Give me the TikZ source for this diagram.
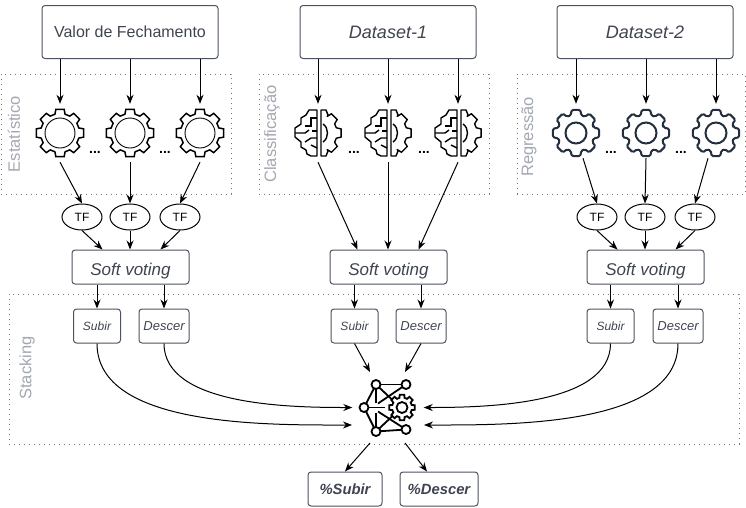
\documentclass[tikz,border=0pt]{standalone}
\usepackage{fontspec}
\usepackage{xcolor}
\setmainfont{Liberation Sans}
\usetikzlibrary{arrows.meta,shapes.geometric}
\definecolor{boxline}{HTML}{4D5360}
\definecolor{boxtext}{HTML}{3F4450}
\definecolor{grouptext}{HTML}{A3A7B0}
\definecolor{cogdark}{HTML}{232F3E}
\newcommand{\gearpath}[4]{(-#4:#1) \foreach \a in {0,45,...,315}{ -- ({\a-#4}:#1) -- ({\a-#3}:#2) -- ({\a+#3}:#2) -- ({\a+#4}:#1)} -- cycle}
\tikzset{
  ringcog/.pic={
    \draw[line width=1.5pt,line join=miter] \gearpath{19.5}{24}{10}{15};
    \draw[line width=0.9pt] (0,0) circle[radius=15pt];
  },
  plaincog/.pic={
    \draw[cogdark,line width=2pt,rounded corners=1.5pt] \gearpath{18.5}{23.5}{11}{16};
    \draw[cogdark,line width=2pt] (0,0) circle[radius=10.5pt];
  },
  braincog/.pic={
    \draw[line width=1.4pt,line join=round] (-1,-23) -- (-9,-23) -- (-12,-18) -- (-17,-15) -- (-17,-9) -- (-23,-5) -- (-23,4) -- (-17,9) -- (-17,14) -- (-12,17) -- (-11,21) -- (-7,23) -- (-1,23) -- cycle;
    \draw[line width=1.4pt] (-1,-15) -- (-7,-15) -- (-7,-7) -- (-13,-7);
    \draw[line width=1.4pt] (-23,0) -- (-13,0) -- (-9,-3);
    \draw[line width=1.4pt] (-1,-2) -- (-6,-2);
    \draw[line width=1.4pt] (-1,5) -- (-7,5) -- (-13,9);
    \draw[line width=1.4pt] (-1,15) -- (-7,12);
    \draw[line width=1.4pt,line join=round] (3,-23) -- (8,-23) -- (10,-18) \foreach \a in {-45,0,45}{ -- ({\a-16}:19) -- ({\a-10}:23.5) -- ({\a+10}:23.5) -- ({\a+16}:19)} -- (10,18) -- (8,23) -- (3,23) -- cycle;
    \draw[line width=1.4pt] (5,-9) .. controls (11,-5) and (11,5) .. (5,9);
  },
  netcog/.pic={
    \draw[line width=1.8pt] (-12,-23) -- (18,-23);
    \draw[line width=1.8pt] (-12,24) -- (18,22);
    \draw[line width=1.8pt] (-24,0) -- (-12,-23);
    \draw[line width=1.8pt] (-24,0) -- (-12,24);
    \draw[line width=1.8pt] (-24,0) -- (-3,0);
    \draw[line width=1.8pt] (-12,-23) -- (-12,-5);
    \draw[line width=1.8pt] (-12,24) -- (-12,5);
    \draw[line width=1.8pt] (18,-23) -- (-10,-4);
    \draw[line width=1.8pt] (18,22) -- (-10,4);
    \draw[line width=1.8pt] (-12,-23) -- (4,-8);
    \draw[line width=1.8pt] (-12,24) -- (4,9);
    \begin{scope}[shift={(14,0)}]
      \draw[line width=1.8pt,fill=white] \gearpath{10}{13}{10}{15};
      \draw[line width=1.8pt] (0,0) circle[radius=5.5pt];
    \end{scope}
    \draw[line width=1.8pt,fill=white] (-12,-23) circle[radius=4.5pt];
    \draw[line width=1.8pt,fill=white] (18,-23) circle[radius=4.5pt];
    \draw[line width=1.8pt,fill=white] (-24,0) circle[radius=4.5pt];
    \draw[line width=1.8pt,fill=white] (-12,24) circle[radius=4.5pt];
    \draw[line width=1.8pt,fill=white] (18,22) circle[radius=4.5pt];
  }
}
\begin{document}
\begin{tikzpicture}[x=1pt,y=-1pt,
  source/.style={draw=boxline,line width=1pt,rounded corners=3pt,minimum width=176pt,minimum height=53pt,inner sep=0pt,text=boxtext,font=\fontsize{16}{18}\selectfont},
  voter/.style={draw=boxline,line width=1pt,rounded corners=3pt,minimum width=117pt,minimum height=34pt,inner sep=0pt,text height=16pt,text depth=0pt,text=boxtext,font=\fontsize{17}{19}\selectfont\itshape},
  upbox/.style={draw=boxline,line width=1pt,rounded corners=3pt,minimum width=47pt,minimum height=34pt,inner sep=0pt,text=boxtext,font=\fontsize{12}{14}\selectfont\itshape},
  downbox/.style={upbox,minimum width=50pt,font=\fontsize{13}{15}\selectfont\itshape},
  result/.style={draw=boxline,line width=1pt,rounded corners=3pt,minimum height=34pt,inner sep=0pt,text=boxtext,font=\fontsize{14.8}{16}\selectfont\bfseries\itshape},
  tfnode/.style={draw,line width=1pt,ellipse,minimum width=40pt,minimum height=26pt,inner sep=0pt,font=\fontsize{12}{14}\selectfont},
  iconbox/.style={minimum width=48pt,minimum height=58pt,inner sep=0pt},
  group/.style={draw=black!55,line width=0.9pt,dash pattern=on 1pt off 4pt,inner sep=0pt},
  grouplabel/.style={rotate=90,text=grouptext,font=\fontsize{16.5}{18}\selectfont},
  gap/.style={inner sep=0pt,font=\fontsize{14}{16}\selectfont\bfseries},
  link/.style={line width=1pt,-{Stealth[length=9pt,width=7pt]}}]
 \useasboundingbox (0,0) rectangle (746,507);
 % groups
 \node[group,minimum width=230pt,minimum height=120pt] (GE) at (116,134) {};
 \node[group,minimum width=230pt,minimum height=120pt] (GC) at (374,134) {};
 \node[group,minimum width=228pt,minimum height=120pt] (GR) at (631,134) {};
 \node[group,minimum width=730pt,minimum height=150pt] (GS) at (374,369) {};
 \node[grouplabel] (LE) at (14,134) {Estatístico};
 \node[grouplabel] (LC) at (272,134) {Classificação};
 \node[grouplabel] (LR) at (529,137) {Regressão};
 \node[grouplabel] (LS) at (27,368) {Stacking};
 % sources
 \node[source] (V) at (130,32) {Valor de Fechamento};
 \node[source] (D1) at (388,32) {\fontsize{18}{20}\selectfont\itshape Dataset-1};
 \node[source] (D2) at (645,32) {\fontsize{18}{20}\selectfont\itshape Dataset-2};
 % icons
 \node[iconbox] (E1) at (60,133) {};
 \node[iconbox] (E2) at (130,133) {};
 \node[iconbox] (E3) at (200,133) {};
 \node[iconbox] (C1) at (318,133) {};
 \node[iconbox] (C2) at (388,133) {};
 \node[iconbox] (C3) at (458,133) {};
 \node[iconbox] (R1) at (576,133) {};
 \node[iconbox] (R2) at (646,133) {};
 \node[iconbox] (R3) at (716,133) {};
 \pic at (E1) {ringcog};
 \pic at (E2) {ringcog};
 \pic at (E3) {ringcog};
 \pic at (C1) {braincog};
 \pic at (C2) {braincog};
 \pic at (C3) {braincog};
 \pic at (R1) {plaincog};
 \pic at (R2) {plaincog};
 \pic at (R3) {plaincog};
 \node[gap] (G1) at (95,152) {...};
 \node[gap] (G2) at (165,152) {...};
 \node[gap] (G3) at (354,152) {...};
 \node[gap] (G4) at (424,152) {...};
 \node[gap] (G5) at (611,152) {...};
 \node[gap] (G6) at (681,152) {...};
 % tf
 \node[tfnode] (T1) at (82,217) {TF};
 \node[tfnode] (T2) at (130,217) {TF};
 \node[tfnode] (T3) at (180,217) {TF};
 \node[tfnode] (T4) at (597,217) {TF};
 \node[tfnode] (T5) at (645,217) {TF};
 \node[tfnode] (T6) at (695,217) {TF};
 % voting
 \node[voter] (SE) at (130.5,267) {Soft voting};
 \node[voter] (SC) at (388.5,267) {Soft voting};
 \node[voter] (SR) at (645.5,267) {Soft voting};
 \node[upbox] (UE) at (97,326) {Subir};
 \node[downbox] (DE) at (164,326) {Descer};
 \node[upbox] (UC) at (354.5,326) {Subir};
 \node[downbox] (DC) at (421,326) {Descer};
 \node[upbox] (UR) at (610.5,326) {Subir};
 \node[downbox] (DR) at (678,326) {Descer};
 % stacking
 \node[inner sep=0pt,minimum width=71pt,minimum height=71pt] (N) at (388,407.5) {};
 \pic at (N) {netcog};
 \coordinate (NA) at (370,372);
 \coordinate (NB) at (405,372);
 \coordinate (NC) at (352,425);
 \coordinate (ND) at (424,425);
 \coordinate (NE) at (370,443);
 \coordinate (NF) at (405,443);
 \node[result,minimum width=74pt] (PU) at (345,489) {\%Subir};
 \node[result,minimum width=78pt] (PD) at (439,489) {\%Descer};
 % connectors
 \draw[link] (V.south -| E1) -- (E1.north);
 \draw[link] (V.south -| E2) -- (E2.north);
 \draw[link] (V.south -| E3) -- (E3.north);
 \draw[link] (D1.south -| C1) -- (C1.north);
 \draw[link] (D1.south -| C2) -- (C2.north);
 \draw[link] (D1.south -| C3) -- (C3.north);
 \draw[link] (D2.south -| R1) -- (R1.north);
 \draw[link] (D2.south -| R2) -- (R2.north);
 \draw[link] (D2.south -| R3) -- (R3.north);
 \draw[link] (E1.south) -- (T1.north);
 \draw[link] (E2.south) -- (T2.north);
 \draw[link] (E3.south) -- (T3.north);
 \draw[link] (C1.south) -- ([xshift=-31pt]SC.north);
 \draw[link] (C2.south) -- (C2 |- SC.north);
 \draw[link] (C3.south) -- ([xshift=30pt]SC.north);
 \draw[link] ([xshift=7pt,yshift=4pt]R1.south) -- (T4.north);
 \draw[link] ([yshift=4pt]R2.south) -- (T5.north);
 \draw[link] ([xshift=-8pt,yshift=4pt]R3.south) -- (T6.north);
 \draw[link] (T1.south) -- ([xshift=-28pt]SE.north);
 \draw[link] (T2.south) -- (T2 |- SE.north);
 \draw[link] (T3.south) -- ([xshift=30pt]SE.north);
 \draw[link] (T4.south) -- ([xshift=-28pt]SR.north);
 \draw[link] (T5.south) -- (T5 |- SR.north);
 \draw[link] (T6.south) -- ([xshift=30pt]SR.north);
 \draw[link] (SE.south -| UE) -- (UE.north);
 \draw[link] (SE.south -| DE) -- (DE.north);
 \draw[link] (SC.south -| UC) -- (UC.north);
 \draw[link] (SC.south -| DC) -- (DC.north);
 \draw[link] (SR.south -| UR) -- (UR.north);
 \draw[link] (SR.south -| DR) -- (DR.north);
 \draw[link] (UE.south) to[out=-90,in=180,looseness=0.8] (NC);
 \draw[link] (DE.south) to[out=-90,in=180,looseness=0.8] (N.west);
 \draw[link] (UC.south) -- (NA);
 \draw[link] (DC.south) -- (NB);
 \draw[link] (UR.south) to[out=-90,in=0,looseness=0.8] (N.east);
 \draw[link] (DR.south) to[out=-90,in=0,looseness=0.8] (ND);
 \draw[link] (NE) -- (PU.north);
 \draw[link] (NF) -- ([xshift=-12pt]PD.north);
\end{tikzpicture}
\end{document}
